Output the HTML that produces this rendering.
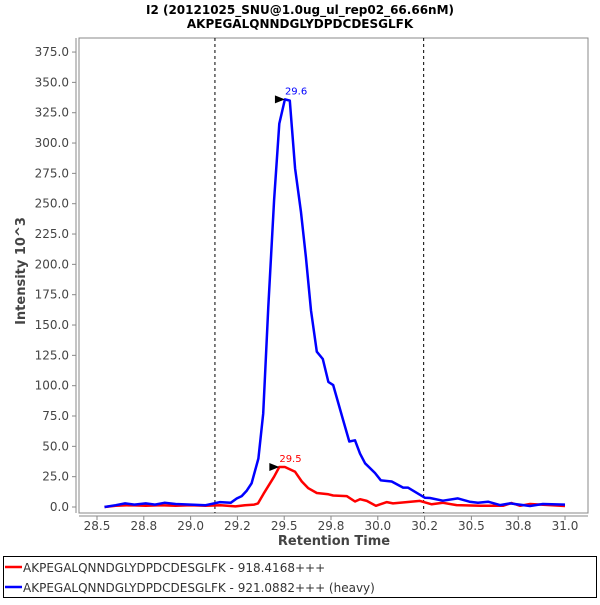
<!DOCTYPE html>
<html><head><meta charset="utf-8"><style>
body{margin:0;background:#fff;font-family:"Liberation Sans","DejaVu Sans",sans-serif}
svg text{font-family:"DejaVu Sans","Liberation Sans",sans-serif}
</style></head><body>
<svg id="c" width="600" height="600" xmlns="http://www.w3.org/2000/svg">
<rect width="600" height="600" fill="#fff"/>
<text x="300" y="14" text-anchor="middle" font-size="12" font-weight="bold">I2 (20121025_SNU@1.0ug_ul_rep02_66.66nM)</text>
<text x="300" y="28" text-anchor="middle" font-size="12" font-weight="bold">AKPEGALQNNDGLYDPDCDESGLFK</text>
<rect x="79" y="38" width="509" height="475" fill="#fff" stroke="#888"/>
<g id="axes"></g>
<g id="series"></g>
<text transform="translate(25,271) rotate(-90)" text-anchor="middle" font-size="13" font-weight="bold" fill="#444">Intensity 10^3</text>
<text x="334" y="545" text-anchor="middle" font-size="13" font-weight="bold" fill="#444">Retention Time</text>
<g>
<rect x="3.5" y="556.5" width="593" height="41" fill="#fff" stroke="#000"/>
<line x1="5" y1="567" x2="22" y2="567" stroke="#f00" stroke-width="2.5"/>
<text x="23" y="572" font-size="12" fill="#333">AKPEGALQNNDGLYDPDCDESGLFK - 918.4168+++</text>
<line x1="5" y1="587" x2="22" y2="587" stroke="#00f" stroke-width="2.5"/>
<text x="23" y="592" font-size="12" fill="#333">AKPEGALQNNDGLYDPDCDESGLFK - 921.0882+++ (heavy)</text>
</g>
</svg>
<script>
const xTicks=[28.5,28.75,29.0,29.25,29.5,29.75,30.0,30.25,30.5,30.75,31.0];
const xTickLabels=["28.5","28.8","29.0","29.2","29.5","29.8","30.0","30.2","30.5","30.8","31.0"];
const yTicks=[0,25,50,75,100,125,150,175,200,225,250,275,300,325,350,375];
const boundaries=[29.13,30.245];
const redT=[28.54,28.6,28.68,28.76,28.84,28.92,29.0,29.08,29.16,29.24,29.29,29.34,29.36,29.39,29.446,29.474,29.504,29.558,29.594,29.629,29.674,29.736,29.762,29.834,29.878,29.905,29.941,29.99,30.048,30.081,30.154,30.225,30.288,30.348,30.421,30.546,30.669,30.715,30.76,30.813,31.0];
const redV=[0,1,1.5,1,1.5,1,1.5,1,1.5,0.5,1.5,2,3,11,25,33,33,29,21,15.5,11.5,10.5,9.5,9,4.5,6.4,5,1,4,3,4,5,2.2,3.5,1.6,1,1,3.3,1,2.5,0.8];
const blueT=[28.54,28.6,28.65,28.7,28.76,28.81,28.86,28.92,29.0,29.08,29.157,29.214,29.246,29.273,29.3,29.326,29.362,29.388,29.415,29.446,29.474,29.504,29.53,29.558,29.59,29.616,29.643,29.674,29.706,29.736,29.762,29.814,29.848,29.878,29.905,29.932,29.985,30.016,30.074,30.135,30.161,30.252,30.279,30.348,30.428,30.49,30.535,30.589,30.653,30.706,30.813,30.882,31.0];
const blueV=[0,1.5,3,2,3,2,3.5,2.5,2,1.5,4,3.5,7,9,13.5,19.5,40,77,165,253,316,336,335,279,243,206,162,128,122,103,100.5,72,54,55,44,36,28,22,21,16,16,7.6,7.4,5.2,7.1,4.4,3.5,4.4,1.6,3,0.8,2.5,2];
const redPeak=[29.5,33,"29.5"];
const bluePeak=[29.6,336,"29.6"];
const X=t=>97+(t-28.5)*187.2;
const Y=v=>507-v*30.33/25;
const NS="http://www.w3.org/2000/svg";
function mk(tag,attrs,parent,txt){const e=document.createElementNS(NS,tag);for(const k in attrs)e.setAttribute(k,attrs[k]);if(txt!==undefined)e.textContent=txt;parent.appendChild(e);return e;}
const ax=document.getElementById('axes');
const yl=mk('line',{x1:76,y1:38,x2:76,y2:513,stroke:'#888'},ax);


const xl=mk('line',{x1:79,y1:516,x2:588,y2:516,stroke:'#888'},ax);


yTicks.forEach(v=>{
 mk('line',{x1:72,y1:Y(v),x2:76,y2:Y(v),stroke:'#888'},ax);
 const t=mk('text',{x:69,y:Y(v)+4,'text-anchor':'end','font-size':12,fill:'#444'},ax,v.toFixed(1));
 
 
});
xTicks.forEach((v,i)=>{
 mk('line',{x1:X(v),y1:516,x2:X(v),y2:520,stroke:'#888'},ax);
 const t=mk('text',{x:X(v),y:530,'text-anchor':'middle','font-size':12,fill:'#444'},ax,xTickLabels[i]);
 
 
});
boundaries.forEach(b=>{
 const l=mk('line',{x1:X(b),y1:38,x2:X(b),y2:513,stroke:'#000','stroke-dasharray':'3,3'},ax);
 
 
});
const sg=document.getElementById('series');
function line(T,V,col,name){
 const p=mk('polyline',{points:T.map((t,i)=>X(t).toFixed(1)+','+Y(V[i]).toFixed(1)).join(' '),fill:'none',stroke:col,'stroke-width':2.5,'stroke-linejoin':'round'},sg);
 
 
}
line(redT,redV,'#f00','light-series-line');
line(blueT,blueV,'#00f','heavy-series-line');
function peak(pk,col,name,tx){
 const i=(col=='#00f'?blueV:redV).indexOf(Math.max(...(col=='#00f'?blueV:redV)));
 const px=X(tx[i]),py=Y(pk[1]);
 const m=mk('polygon',{points:`${px-10},${py-4} ${px},${py} ${px-10},${py+4}`,fill:'#000'},sg);
 
 
 const t=mk('text',{x:px,y:py-5,'font-size':10,fill:col},sg,pk[2]);
 
 
}
peak(bluePeak,'#00f','heavy-peak',blueT);
peak(redPeak,'#f00','light-peak',redT);
</script>
</body></html>
